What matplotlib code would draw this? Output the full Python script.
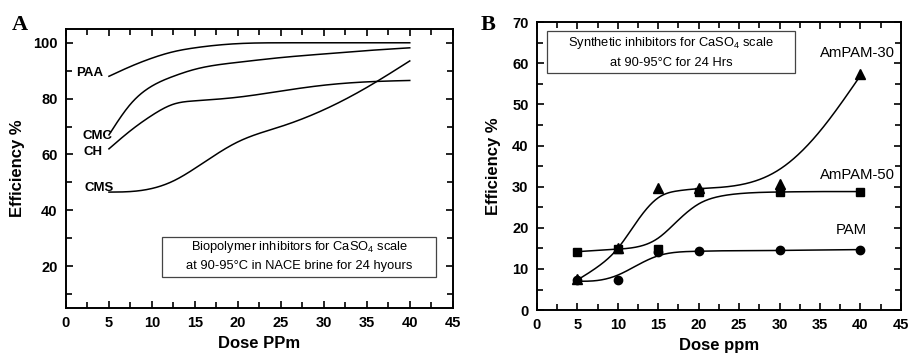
import matplotlib
matplotlib.use('Agg')
import matplotlib.pyplot as plt
from matplotlib.ticker import MultipleLocator
from matplotlib.patches import Rectangle
import numpy as np

plt.rcParams['font.family'] = ['Liberation Sans', 'DejaVu Sans']
plt.rcParams['mathtext.fontset'] = 'custom'
plt.rcParams['mathtext.rm'] = 'Liberation Sans'

# Panel A: biopolymer curves
dose_a = [5, 7.5, 10, 12.5, 15, 20, 25, 30, 35, 40]
paa = [88, 91.5, 94.5, 96.8, 98.2, 99.7, 100, 100, 100, 100]
cmc = [67, 78, 84.5, 88, 90.5, 93, 94.7, 96, 97.2, 98.2]
ch = [62, 68.5, 74, 78, 79.2, 80.5, 82.7, 84.8, 86, 86.5]
cms = [46.5, 46.7, 47.8, 50.5, 55, 64.5, 70, 76, 84, 93.5]

# Panel B: synthetic inhibitors, measured points
dose_b = [5, 10, 15, 20, 30, 40]
ampam30_pts = [7.5, 15.0, 29.6, 29.7, 30.6, 57.5]
ampam50_pts = [14.2, 14.8, 14.9, 28.6, 28.7, 28.8]
pam_pts = [7.2, 7.2, 14.1, 14.3, 14.5, 14.7]

# Panel B: fitted curves (knots)
knot_b = [5, 7.5, 10, 12.5, 15, 17.5, 20, 22.5, 25, 30, 35, 40]
ampam30_fit = [7.3, 10.5, 15, 21.9, 27.3, 29.0, 29.5, 29.8, 30.4, 34.2, 43.5, 57]
ampam50_fit = [14.2, 14.5, 14.8, 15.4, 17.5, 21.9, 25.8, 27.6, 28.3, 28.7, 28.8, 28.8]
pam_fit = [7.0, 7.2, 8.5, 11.0, 13.2, 14.1, 14.3, 14.4, 14.4, 14.5, 14.6, 14.7]


def spline(x, y, n=400):
    # natural cubic spline through the knots, just for drawing smooth lines
    x = np.asarray(x, float)
    y = np.asarray(y, float)
    k = len(x)
    h = np.diff(x)
    A = np.zeros((k, k))
    r = np.zeros(k)
    A[0, 0] = A[-1, -1] = 1
    for i in range(1, k - 1):
        A[i, i - 1] = h[i - 1]
        A[i, i] = 2 * (h[i - 1] + h[i])
        A[i, i + 1] = h[i]
        r[i] = 3 * ((y[i + 1] - y[i]) / h[i] - (y[i] - y[i - 1]) / h[i - 1])
    c = np.linalg.solve(A, r)
    b = (y[1:] - y[:-1]) / h - h * (2 * c[:-1] + c[1:]) / 3
    d = (c[1:] - c[:-1]) / (3 * h)
    xs = np.linspace(x[0], x[-1], n)
    idx = np.clip(np.searchsorted(x, xs) - 1, 0, k - 2)
    t = xs - x[idx]
    ys = y[idx] + b[idx] * t + c[idx] * t**2 + d[idx] * t**3
    return xs, ys


def style_axes(ax):
    for s in ax.spines.values():
        s.set_linewidth(1.4)
    ax.tick_params(which='both', direction='in', top=True, right=True,
                   width=1.2, labelsize=10.5, pad=6)
    ax.tick_params(which='major', length=5)
    ax.tick_params(which='minor', length=4)
    for lab in ax.get_xticklabels() + ax.get_yticklabels():
        lab.set_fontweight('bold')


def note(ax, x0, x1, y0, y1, lines, ys):
    ax.add_patch(Rectangle((x0, y0), x1 - x0, y1 - y0, fill=True, fc='white',
                           ec='#444444', lw=0.9, zorder=3))
    for txt, yy in zip(lines, ys):
        ax.text((x0 + x1) / 2, yy, txt, fontsize=9.3, ha='center', va='center', zorder=4)


fig = plt.figure(figsize=(9.1, 3.56), dpi=100)
axA = fig.add_axes([0.0725, 0.135, 0.425, 0.784])
axB = fig.add_axes([0.590, 0.129, 0.400, 0.809])

# ---- Panel A
for vals in [paa, cmc, ch, cms]:
    xs, ys = spline(dose_a, vals)
    axA.plot(xs, ys, color='black', lw=1.1)

axA.set_xlim(0, 45)
axA.set_ylim(5, 105)
axA.xaxis.set_major_locator(MultipleLocator(5))
axA.xaxis.set_minor_locator(MultipleLocator(2.5))
axA.set_yticks([20, 40, 60, 80, 100])
axA.yaxis.set_minor_locator(MultipleLocator(10))
style_axes(axA)
axA.set_xlabel('Dose PPm', fontsize=12, fontweight='bold', labelpad=4)
axA.set_ylabel('Efficiency %', fontsize=12, fontweight='bold', labelpad=6)

for name, xx, yy in [('PAA', 2.8, 89.3), ('CMC', 3.7, 66.5), ('CH', 3.2, 60.7), ('CMS', 3.9, 47.9)]:
    axA.text(xx, yy, name, fontsize=9.5, fontweight='bold', ha='center', va='center')

note(axA, 11.2, 43.1, 16.1, 30.4,
     ['Biopolymer inhibitors for CaSO$_4$ scale', 'at 90-95°C in NACE brine for 24 hyours'],
     [26.8, 20.0])
fig.text(0.013, 0.93, 'A', fontsize=16, fontweight='bold', family='Liberation Serif', va='center')

# ---- Panel B
for fit in [ampam30_fit, ampam50_fit, pam_fit]:
    xs, ys = spline(knot_b, fit)
    axB.plot(xs, ys, color='black', lw=1.1)
axB.plot(dose_b, ampam30_pts, '^', color='black', ms=6.5, ls='none')
axB.plot(dose_b, ampam50_pts, 's', color='black', ms=5.5, ls='none')
axB.plot(dose_b, pam_pts, 'o', color='black', ms=6, ls='none')

axB.set_xlim(0, 45)
axB.set_ylim(0, 70)
axB.xaxis.set_major_locator(MultipleLocator(5))
axB.xaxis.set_minor_locator(MultipleLocator(2.5))
axB.yaxis.set_major_locator(MultipleLocator(10))
axB.yaxis.set_minor_locator(MultipleLocator(5))
style_axes(axB)
axB.set_xlabel('Dose ppm', fontsize=12, fontweight='bold', labelpad=4)
axB.set_ylabel('Efficiency %', fontsize=12, fontweight='bold', labelpad=8)

for name, xx, yy in [('AmPAM-30', 39.6, 62.5), ('AmPAM-50', 39.6, 32.8), ('PAM', 38.9, 19.4)]:
    axB.text(xx, yy, name, fontsize=10.7, ha='center', va='center')

note(axB, 1.2, 31.95, 57.6, 67.8,
     ['Synthetic inhibitors for CaSO$_4$ scale', 'at 90-95°C for 24 Hrs'],
     [64.9, 60.0])
fig.text(0.528, 0.93, 'B', fontsize=16, fontweight='bold', family='Liberation Serif', va='center')

fig.savefig('out.png', dpi=100)
